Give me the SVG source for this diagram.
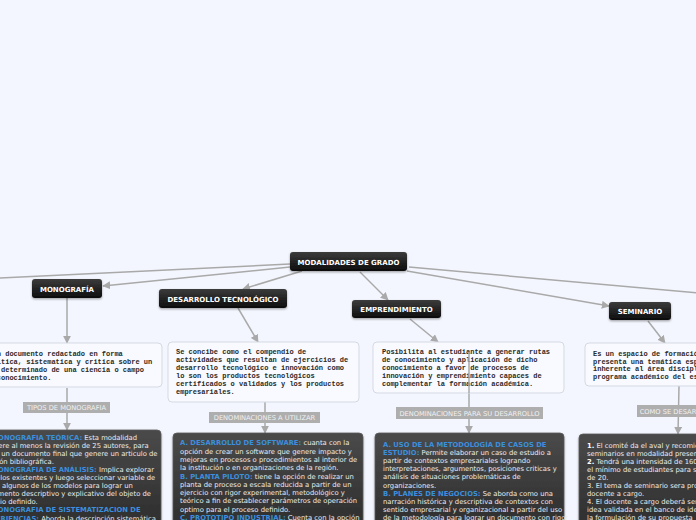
<svg xmlns="http://www.w3.org/2000/svg" width="696" height="520" viewBox="0 0 696 520">
<defs>
<linearGradient id="gNode" x1="0" y1="0" x2="0" y2="1"><stop offset="0" stop-color="#3c3c3c"/><stop offset="1" stop-color="#0c0c0c"/></linearGradient>
<linearGradient id="gDark" x1="0" y1="0" x2="0" y2="1"><stop offset="0" stop-color="#4a4a4a"/><stop offset="1" stop-color="#262626"/></linearGradient>
<filter id="sh" x="-10%" y="-20%" width="120%" height="160%"><feDropShadow dx="0" dy="1.2" stdDeviation="1" flood-color="#000" flood-opacity="0.35"/></filter>
<marker id="ar" viewBox="0 0 10 10" refX="9" refY="5" markerWidth="8" markerHeight="8" markerUnits="userSpaceOnUse" orient="auto"><path d="M0,0 L10,5 L0,10 z" fill="#a9a9a9"/></marker>
</defs>
<style>
.bg{fill:#f3f6fe}
.node rect{fill:url(#gNode);filter:url(#sh)}
.node text{font-family:"DejaVu Sans",Verdana,sans-serif;font-weight:bold;font-size:7px;fill:#ffffff;text-anchor:middle}
.desc rect{fill:#f8faff;stroke:#d5d9e2;stroke-width:1}
.desc text{font-family:"Liberation Mono","Courier New",monospace;font-weight:bold;font-size:7px;fill:#2a2a2a}
.lab rect{fill:#aeaeae}
.lab text{font-family:"DejaVu Sans",Verdana,sans-serif;font-size:6.7px;fill:#f2f2f2;text-anchor:middle}
.dark rect{fill:url(#gDark);stroke:#5a5a5a;stroke-width:0.8;filter:url(#sh)}
.dark text{font-family:"DejaVu Sans",Verdana,sans-serif;font-size:6.8px;fill:#ececec}
.dark .h{font-weight:bold;fill:#3b8fdc}
.dark .b{font-weight:bold;fill:#ffffff}
.con line,.con path{stroke:#a9a9a9;stroke-width:1.5;fill:none}
</style>
<rect class="bg" x="0" y="0" width="696" height="520"/>

<g id="connectors" class="con">
<line x1="290" y1="264" x2="-2" y2="278"/>
<line x1="290" y1="267" x2="103" y2="286" marker-end="url(#ar)"/>
<line x1="302" y1="271" x2="243" y2="289" marker-end="url(#ar)"/>
<line x1="360" y1="272" x2="388" y2="300" marker-end="url(#ar)"/>
<line x1="407" y1="271" x2="609" y2="306" marker-end="url(#ar)"/>
<line x1="409" y1="267" x2="698" y2="293"/>
<line x1="67" y1="298" x2="67" y2="343" marker-end="url(#ar)"/>
<line x1="238" y1="308" x2="258" y2="342" marker-end="url(#ar)"/>
<line x1="410" y1="319" x2="438" y2="342" marker-end="url(#ar)"/>
<line x1="648" y1="321" x2="665" y2="343" marker-end="url(#ar)"/>
<line x1="67" y1="388" x2="67" y2="430" marker-end="url(#ar)"/>
<line x1="265" y1="402" x2="265" y2="433" marker-end="url(#ar)"/>
<line x1="469" y1="352" x2="469" y2="433" marker-end="url(#ar)"/>
<line x1="679" y1="386" x2="678" y2="434" marker-end="url(#ar)"/>
</g>

<g id="modalidades" class="node"><rect x="290" y="252" width="117" height="19" rx="3"/><text x="348.5" y="264.5">MODALIDADES DE GRADO</text></g>
<g id="monografia" class="node"><rect x="32" y="279" width="70" height="19" rx="3"/><text x="67" y="291.5">MONOGRAFÍA</text></g>
<g id="desarrollo" class="node"><rect x="159" y="289" width="128" height="19" rx="3"/><text x="223" y="301.5">DESARROLLO TECNOLÓGICO</text></g>
<g id="emprendimiento" class="node"><rect x="352" y="300" width="89" height="18" rx="3"/><text x="396.5" y="312">EMPRENDIMIENTO</text></g>
<g id="seminario" class="node"><rect x="609" y="302" width="62" height="18" rx="3"/><text x="640" y="314">SEMINARIO</text></g>

<g id="mono-desc" class="desc"><rect x="-29" y="343" width="191" height="44" rx="4"/>
<text x="-20" y="356">Es un documento redactado en forma</text>
<text x="-20" y="364">analítica, sistematica y critica sobre un</text>
<text x="-20" y="372">tema determinado de una ciencia o campo</text>
<text x="-20" y="380">del conocimiento.</text></g>

<g id="des-desc" class="desc"><rect x="168" y="342" width="191" height="60" rx="4"/>
<text x="176" y="354">Se concibe como el compendio de</text>
<text x="176" y="362">actividades que resultan de ejercicios de</text>
<text x="176" y="370">desarrollo tecnológico e innovación como</text>
<text x="176" y="378">lo son los productos tecnológicos</text>
<text x="176" y="386">certificados o validados y los productos</text>
<text x="176" y="394">empresariales.</text></g>

<g id="emp-desc" class="desc"><rect x="373" y="342" width="191" height="51" rx="4"/>
<text x="382" y="354">Posibilita al estudiante a generar rutas</text>
<text x="382" y="362">de conocimiento y aplicación de dicho</text>
<text x="382" y="370">conocimiento a favor de procesos de</text>
<text x="382" y="378">innovación y emprendimiento capaces de</text>
<text x="382" y="386">complementar la formación académica.</text></g>
<line x1="469" y1="352" x2="469" y2="393" stroke="#a9a9a9" stroke-width="1.5"/>

<g id="sem-desc" class="desc"><rect x="585" y="343" width="191" height="43" rx="4"/>
<text x="593" y="355.5">Es un espacio de formación que</text>
<text x="593" y="363.5">presenta una temática específica</text>
<text x="593" y="371">inherente al área disciplinar del</text>
<text x="593" y="379">programa académico del estudiante.</text></g>

<g id="lab-tipos" class="lab"><rect x="23" y="402" width="87" height="11"/><text x="66.5" y="410.3">TIPOS DE MONOGRAFIA</text></g>
<g id="lab-denom" class="lab"><rect x="209" y="412" width="111" height="11"/><text x="264.5" y="420.3">DENOMINACIONES A UTILIZAR</text></g>
<g id="lab-denom2" class="lab"><rect x="396" y="407" width="147" height="12"/><text x="469.5" y="415.8">DENOMINACIONES PARA SU DESARROLLO</text></g>
<g id="lab-como" class="lab"><rect x="637" y="405" width="84" height="12"/><text x="679" y="413.8">COMO SE DESARROLLA</text></g>

<g id="mono-dark" class="dark"><rect x="-29" y="430" width="190" height="120" rx="4"/>
<text x="-19" y="439.5"><tspan class="h">A. MONOGRAFIA TEÓRICA:</tspan> Esta modalidad</text>
<text x="-19" y="447.6">requiere al menos  la revisión de 25 autores, para</text>
<text x="-19" y="455.7">tener un documento final que genere un articulo de</text>
<text x="-19" y="463.8">revisión bibliográfica.</text>
<text x="-19" y="471.9"><tspan class="h">B. MONOGRAFIA DE ANÁLISIS:</tspan> Implica explorar</text>
<text x="-19" y="480">modelos existentes y luego seleccionar variable de</text>
<text x="-19" y="488.1">sobre algunos de los modelos para lograr un</text>
<text x="-19" y="496.2">documento descriptivo y explicativo del objeto de</text>
<text x="-19" y="504.3">estudio definido.</text>
<text x="-19" y="512.4"><tspan class="h">C. MONOGRAFIA DE SISTEMATIZACION DE</tspan></text>
<text x="-19" y="520.5"><tspan class="h">EXPERIENCIAS:</tspan> Aborda la descripción sistemática</text></g>

<g id="des-dark" class="dark"><rect x="173" y="433" width="190" height="120" rx="4"/>
<text x="180" y="445.3"><tspan class="h">A. DESARROLLO DE SOFTWARE:</tspan> cuanta con la</text>
<text x="180" y="453.6">opción de crear un software que genere impacto y</text>
<text x="180" y="461.9">mejoras en procesos o procedimientos al interior de</text>
<text x="180" y="470.2">la institución o en organizaciones de la región.</text>
<text x="180" y="478.5"><tspan class="h">B. PLANTA PILOTO:</tspan> tiene la opción de realizar un</text>
<text x="180" y="486.8">planta de proceso a escala reducida a partir de un</text>
<text x="180" y="495.1">ejercicio con rigor experimental, metodológico y</text>
<text x="180" y="503.4">teórico a fin de establecer parámetros de operación</text>
<text x="180" y="511.7">optimo para el proceso definido.</text>
<text x="180" y="520"><tspan class="h">C. PROTOTIPO INDUSTRIAL:</tspan> Cuenta con la opción</text></g>

<g id="emp-dark" class="dark"><rect x="375" y="433" width="189" height="120" rx="4"/>
<text x="383" y="446.5"><tspan class="h">A. USO DE LA METODOLOGÍA DE CASOS DE</tspan></text>
<text x="383" y="454.7"><tspan class="h">ESTUDIO:</tspan> Permite elaborar un caso de estudio a</text>
<text x="383" y="462.9">partir de contextos empresariales logrando</text>
<text x="383" y="471.1">interpretaciones, argumentos, posiciones criticas y</text>
<text x="383" y="479.3">análisis de situaciones problemáticas de</text>
<text x="383" y="487.5">organizaciones.</text>
<text x="383" y="495.7"><tspan class="h">B. PLANES DE NEGOCIOS:</tspan> Se aborda como una</text>
<text x="383" y="503.9">narración histórica y descriptiva de contextos con</text>
<text x="383" y="512.1">sentido empresarial y organizacional  a partir del uso</text>
<text x="383" y="520.3">de la metodología para lograr un documento con rigor</text></g>

<g id="sem-dark" class="dark"><rect x="579" y="434" width="190" height="120" rx="4"/>
<text x="587" y="447.5"><tspan class="b">1.</tspan> El comité da el aval y recomienda los</text>
<text x="587" y="455.5">seminarios en modalidad presencial.</text>
<text x="587" y="463.5"><tspan class="b">2.</tspan> Tendrá una intensidad de 160 horas y</text>
<text x="587" y="471.5">el mínimo de estudiantes para ser</text>
<text x="587" y="479.5">de 20.</text>
<text x="587" y="487.5">3. El tema de seminario sera propuesto por el</text>
<text x="587" y="495.5">docente a cargo.</text>
<text x="587" y="503.5">4. El docente a cargo deberá ser</text>
<text x="587" y="511.5">idea validada en el banco de ideas</text>
<text x="587" y="519.5">la formulación de su propuesta</text></g>
</svg>
